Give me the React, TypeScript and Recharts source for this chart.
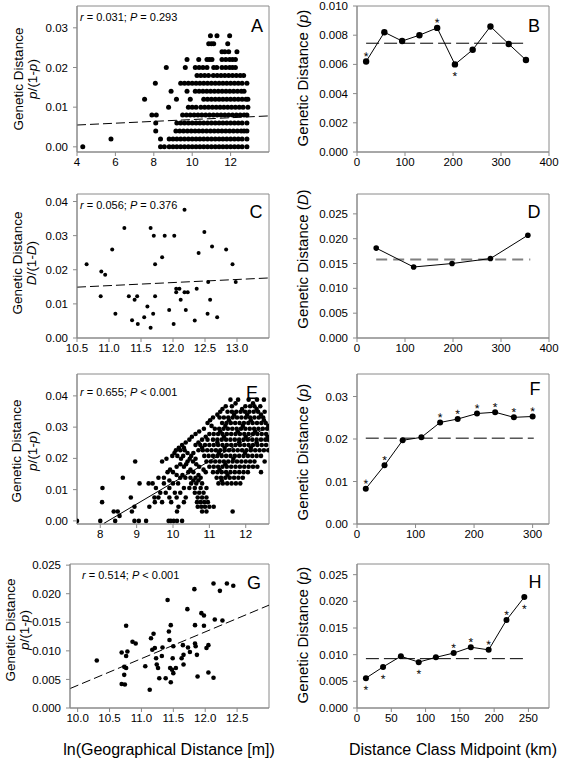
import React from 'react';
import {
  ScatterChart,
  Scatter,
  ComposedChart,
  Line,
  XAxis,
  YAxis,
  ReferenceLine,
  ReferenceArea,
} from 'recharts';

const FONT = '"Liberation Sans", Arial, Helvetica, sans-serif';
const GREY = '#8a8a8a';

// ---- panel A: p/(1-p) vs ln distance (rows of overlapping points)
const aRowY = [0, 0.002, 0.004, 0.006, 0.008, 0.01, 0.012, 0.014, 0.016, 0.018, 0.02, 0.022, 0.024, 0.026, 0.028];
const aRowX = [
  [4.3, 8.35, 8.55, 8.8, 9.0, 9.2, 9.4, 9.6, 9.8, 10.0, 10.2, 10.4, 10.6, 10.8, 11.0, 11.2, 11.4, 11.6, 11.8, 12.0, 12.2, 12.4, 12.6, 12.85],
  [5.77, 8.35, 8.8, 9.0, 9.2, 9.4, 9.6, 9.8, 10.0, 10.2, 10.4, 10.6, 10.8, 11.0, 11.2, 11.4, 11.6, 11.8, 12.0, 12.2, 12.4, 12.6, 12.85],
  [8.1, 9.15, 9.35, 9.55, 9.75, 9.95, 10.15, 10.35, 10.55, 10.75, 10.95, 11.15, 11.35, 11.55, 11.75, 11.95, 12.15, 12.35, 12.55, 12.7, 12.85],
  [8.1, 9.2, 9.4, 9.6, 9.8, 10.0, 10.2, 10.4, 10.6, 10.8, 11.0, 11.2, 11.4, 11.6, 11.8, 12.0, 12.2, 12.4, 12.6, 12.85],
  [7.9, 8.13, 9.5, 9.7, 9.9, 10.1, 10.3, 10.5, 10.7, 10.9, 11.1, 11.3, 11.5, 11.7, 11.9, 12.1, 12.3, 12.5, 12.7, 12.85],
  [8.77, 9.8, 10.0, 10.2, 10.45, 10.65, 10.85, 11.05, 11.25, 11.45, 11.65, 11.85, 12.05, 12.25, 12.45, 12.65, 12.9],
  [7.52, 9.18, 9.9, 10.6, 10.8, 11.0, 11.2, 11.4, 11.6, 11.8, 12.0, 12.2, 12.4, 12.6, 12.8, 12.9],
  [8.9, 9.73, 10.16, 10.36, 10.56, 10.76, 10.96, 11.16, 11.36, 11.56, 11.76, 11.96, 12.16, 12.36, 12.56, 12.7],
  [8.08, 9.4, 9.6, 9.8, 10.0, 10.2, 10.4, 10.6, 10.8, 11.0, 11.2, 11.4, 11.6, 11.8, 12.0, 12.2, 12.4, 12.6, 12.85],
  [10.25, 10.45, 10.65, 10.85, 11.1, 11.3, 11.5, 11.7, 11.9, 12.1, 12.3, 12.5, 12.68],
  [8.65, 9.64, 10.16, 10.36, 10.56, 10.77, 11.12, 11.28, 11.55, 11.75, 11.95, 12.1, 12.25],
  [9.73, 10.34, 10.77, 10.9, 11.03, 11.55, 11.75, 11.95, 12.1, 12.25],
  [11.55, 11.7, 11.9, 12.33],
  [10.86, 11.0, 11.12, 11.85],
  [10.95, 11.29, 11.95],
];
const aFit = [[4, 0.0055], [14, 0.0078]];

// ---- panel B: p by distance class
const bX = [19, 57, 94, 130, 167, 204, 241, 278, 316, 352];
const bY = [0.0062, 0.0082, 0.0076, 0.008, 0.0085, 0.006, 0.007, 0.0086, 0.0074, 0.0063];
const bStar = ['up', '', '', '', 'up', 'down', '', '', '', ''];
const bMean = [19, 352, 0.00745];

// ---- panel C: D/(1-D) vs ln distance
const cX = [10.65, 10.88, 10.94, 10.87, 11.05, 11.1, 11.24, 11.31, 11.36, 11.4, 11.44, 11.45, 11.55, 11.6, 11.65, 11.65, 11.7, 11.69, 11.72, 11.72, 11.83, 11.87, 11.94, 12.02, 12.01, 12.05, 12.05, 12.1, 12.12, 12.18, 12.18, 12.23, 12.2, 12.34, 12.37, 12.4, 12.49, 12.55, 12.54, 12.58, 12.61, 12.69, 12.83, 12.93, 12.98];
const cY = [0.0216, 0.0195, 0.0185, 0.0122, 0.0259, 0.0071, 0.0322, 0.0122, 0.0052, 0.0112, 0.0122, 0.0041, 0.0061, 0.0092, 0.003, 0.0322, 0.03, 0.0071, 0.0216, 0.0122, 0.0237, 0.03, 0.0082, 0.03, 0.0041, 0.0144, 0.0134, 0.0144, 0.0112, 0.0376, 0.0134, 0.0134, 0.0082, 0.0051, 0.0144, 0.0249, 0.0311, 0.0164, 0.0071, 0.0112, 0.0268, 0.0061, 0.0259, 0.0216, 0.0164];
const cFit = [[10.5, 0.0149], [13.5, 0.0176]];

// ---- panel D: D by distance class
const dX = [40, 118, 198, 278, 356];
const dY = [0.0181, 0.0143, 0.015, 0.016, 0.0207];
const dMean = [40, 361, 0.0158];

// ---- panel E: p/(1-p) vs ln distance
const eRowY = [
  0.0388, 0.0376, 0.0367, 0.0358, 0.0349, 0.034, 0.0331, 0.0322, 0.0313, 0.0304, 0.0295, 0.0286,
  0.0278, 0.0269, 0.026, 0.0251, 0.0243, 0.0234, 0.0226, 0.0217, 0.0208, 0.0199, 0.019, 0.0181,
  0.0173, 0.0164, 0.0156, 0.0147, 0.0138, 0.0129, 0.012, 0.0105, 0.009, 0.0075, 0.006, 0.0045,
  0.003, 0.0016, 0,
];
const eRowX = [
  [11.58, 11.79, 12.08, 12.31, 12.5],
  [11.72, 12.2],
  [11.45, 11.62, 11.99, 12.12, 12.24, 12.4],
  [11.36, 11.9, 12.3],
  [11.3, 11.5, 11.62, 11.74, 11.86, 11.98, 12.1, 12.22, 12.34, 12.52],
  [11.22, 11.68, 12.04, 12.42],
  [11.1, 11.28, 11.4, 11.52, 11.64, 11.76, 11.88, 12.0, 12.12, 12.24, 12.36, 12.48],
  [11.02, 11.54, 12.14, 12.5],
  [10.95, 11.35, 11.47, 11.59, 11.71, 11.83, 11.95, 12.07, 12.19, 12.31, 12.43, 12.55],
  [11.06, 11.44, 11.92, 12.62],
  [10.85, 11.15, 11.27, 11.39, 11.51, 11.63, 11.75, 11.87, 11.99, 12.11, 12.23, 12.35, 12.47, 12.59],
  [10.72, 11.3, 11.78, 12.26],
  [10.62, 11.0, 11.12, 11.24, 11.36, 11.48, 11.6, 11.72, 11.84, 11.96, 12.08, 12.2, 12.32, 12.44, 12.56],
  [10.52, 10.9, 11.4, 12.0, 12.6],
  [10.45, 10.8, 10.95, 11.1, 11.22, 11.34, 11.46, 11.58, 11.7, 11.82, 11.94, 12.06, 12.18, 12.3, 12.42, 12.54, 12.62],
  [10.35, 10.7, 11.22, 11.82, 12.3],
  [10.25, 10.62, 10.75, 10.88, 11.0, 11.12, 11.24, 11.36, 11.48, 11.6, 11.72, 11.84, 11.96, 12.08, 12.2, 12.32, 12.44, 12.56],
  [10.16, 10.3, 10.8, 11.42, 12.14],
  [10.08, 10.2, 10.32, 10.7, 10.82, 10.94, 11.06, 11.18, 11.3, 11.42, 11.54, 11.66, 11.78, 11.9, 12.02, 12.14, 12.26, 12.38, 12.5, 12.62],
  [10.04, 10.4, 10.56, 11.26, 11.98],
  [9.98, 10.12, 10.28, 10.5, 10.86, 10.98, 11.1, 11.22, 11.34, 11.46, 11.58, 11.7, 11.82, 11.94, 12.06, 12.18, 12.3, 12.42],
  [9.82, 10.22, 10.46, 10.62, 11.66],
  [8.96, 9.7, 10.4, 10.55, 10.92, 11.04, 11.16, 11.28, 11.4, 11.52, 11.64, 11.76, 11.88, 12.0, 12.12, 12.24, 12.52],
  [10.2, 10.36, 10.64, 11.44],
  [10.1, 10.3, 10.72, 11.0, 11.12, 11.24, 11.36, 11.48, 11.6, 11.72, 11.84, 11.96, 12.08, 12.2, 12.32],
  [9.92, 10.48, 10.84, 11.28],
  [9.85, 10.0, 10.42, 10.56, 10.9, 11.1, 11.22, 11.34, 11.46, 11.58, 11.7, 11.82, 11.94, 12.06, 12.42],
  [10.1, 10.26, 10.7, 11.5],
  [8.62, 9.6, 9.75, 10.2, 10.34, 10.48, 10.62, 10.76, 11.2, 11.32, 11.44, 11.56, 11.68, 11.8, 11.92],
  [9.9, 10.56, 10.7, 11.34],
  [9.08, 9.33, 9.44, 9.75, 10.0, 10.14, 10.5, 10.64, 10.8, 11.25, 11.37, 11.49, 11.61, 11.73, 11.85],
  [8.06, 9.53, 9.9, 10.3, 10.45, 10.6, 10.76, 10.92],
  [9.65, 9.8, 10.05, 10.2, 10.6, 10.72, 10.84],
  [8.84, 9.49, 9.6, 9.9, 10.1, 10.35, 10.68, 10.8, 10.92],
  [8.05, 9.5, 9.7, 9.95, 10.3, 10.66, 10.76, 10.86, 10.96],
  [8.94, 9.35, 10.15, 10.68, 10.78, 10.88, 11.0, 11.12],
  [8.37, 8.48, 8.87, 10.11, 10.8, 10.92, 11.64],
  [8.53],
  [7.36, 8.0, 8.41, 8.94, 9.06, 9.26, 9.88, 9.94, 10.02, 10.11, 10.25],
];
const eFit = [[8.1, -0.0008], [12.64, 0.0304]];

// ---- panel F: p by distance class
const fX = [15, 47, 78, 110, 142, 172, 205, 236, 268, 300];
const fY = [0.0083, 0.0138, 0.0197, 0.0204, 0.0239, 0.0247, 0.026, 0.0263, 0.0251, 0.0253];
const fStar = ['up', 'up', '', '', 'up', 'up', 'up', 'up', 'up', 'up'];
const fMean = [15, 302, 0.0202];

// ---- panel G: p/(1-p) vs ln distance
const gX = [10.3, 10.69, 10.76, 10.78, 10.76, 10.73, 10.76, 10.73, 10.69, 10.74, 10.86, 10.91, 11.06, 11.13, 11.15, 11.19, 11.17, 11.21, 11.23, 11.24, 11.26, 11.28, 11.33, 11.32, 11.38, 11.41, 11.43, 11.44, 11.45, 11.46, 11.46, 11.48, 11.49, 11.5, 11.5, 11.54, 11.66, 11.63, 11.65, 11.66, 11.72, 11.73, 11.76, 11.83, 11.84, 11.84, 11.85, 11.87, 11.88, 11.94, 11.98, 11.98, 12.02, 12.05, 12.05, 12.13, 12.13, 12.15, 12.23, 12.27, 12.34, 12.44];
const gY = [0.0083, 0.0097, 0.0144, 0.0099, 0.0091, 0.0072, 0.007, 0.0058, 0.0042, 0.0041, 0.0116, 0.0113, 0.0073, 0.0032, 0.0122, 0.013, 0.0102, 0.0105, 0.0087, 0.0076, 0.007, 0.0052, 0.0106, 0.0091, 0.0052, 0.0189, 0.0134, 0.0119, 0.007, 0.0045, 0.0145, 0.0067, 0.0087, 0.0108, 0.0061, 0.007, 0.0076, 0.0087, 0.011, 0.0093, 0.0173, 0.0106, 0.0098, 0.0208, 0.0145, 0.0113, 0.0108, 0.0093, 0.0055, 0.0166, 0.0162, 0.0144, 0.0105, 0.011, 0.0062, 0.0218, 0.0053, 0.0155, 0.0205, 0.0153, 0.0218, 0.0214];
const gFit = [[9.88, 0.0034], [13.0, 0.018]];

// ---- panel H: p by distance class
const hX = [13, 38, 64, 90, 115, 141, 166, 192, 218, 244];
const hY = [0.0056, 0.0077, 0.0097, 0.0086, 0.0095, 0.0103, 0.0114, 0.0109, 0.0165, 0.0208];
const hStar = ['down', 'down', '', 'down', '', 'up', 'up', 'up', 'up', 'down'];
const hMean = [13, 244, 0.00925];

const YW = 60;
const XH = 30;
const MT = 10;
const MR = 16;

const tickStyle = { fill: '#000', fontSize: 11.5, fontFamily: FONT };

const rowsToPts = (ys: number[], xs: number[][]) => ys.flatMap((y, i) => xs[i].map((x) => ({ x, y })));
const zipPts = (xs: number[], ys: number[], stars?: string[]) =>
  xs.map((x, i) => ({ x, y: ys[i], star: stars ? stars[i] : '' }));

interface ScatterPanelProps {
  left: number;
  top: number;
  w: number;
  h: number;
  pts: { x: number; y: number }[];
  r: number;
  xDom: number[];
  xTicks: number[];
  xFmt: (v: number) => string;
  yDom: number[];
  yTicks: number[];
  yFmt: (v: number) => string;
  fit: number[][];
  dash?: string;
}

function ScatterPanel({ left, top, w, h, pts, r, xDom, xTicks, xFmt, yDom, yTicks, yFmt, fit, dash }: ScatterPanelProps) {
  return (
    <div style={{ position: 'absolute', left: left - YW, top: top - MT }}>
      <ScatterChart width={w + YW + MR} height={h + MT + XH} margin={{ top: MT, right: MR, bottom: 0, left: 0 }}>
        <XAxis type="number" dataKey="x" domain={xDom} ticks={xTicks} tickFormatter={xFmt} allowDataOverflow
          interval={0} height={XH} stroke={GREY} tickSize={4} tickMargin={2} tick={tickStyle} />
        <YAxis type="number" dataKey="y" domain={yDom} ticks={yTicks} tickFormatter={yFmt} allowDataOverflow
          interval={0} width={YW} stroke={GREY} tickSize={4} tickMargin={5} tick={tickStyle} />
        <ReferenceArea x1={xDom[0]} x2={xDom[1]} y1={yDom[0]} y2={yDom[1]} fill="none" fillOpacity={0} stroke={GREY} />
        <ReferenceLine
          segment={[{ x: fit[0][0], y: fit[0][1] }, { x: fit[1][0], y: fit[1][1] }]}
          stroke="#000"
          strokeWidth={1}
          strokeDasharray={dash}
        />
        <Scatter
          data={pts}
          isAnimationActive={false}
          shape={(p: any) => <circle cx={p.cx} cy={p.cy} r={r} fill="#000" />}
        />
      </ScatterChart>
    </div>
  );
}

function StarDot(props: any) {
  const { cx, cy, payload, r } = props;
  const star = payload && payload.star;
  const ty = star === 'down' ? cy + 16 : cy - 1;
  return (
    <g>
      <circle cx={cx} cy={cy} r={r} fill="#000" stroke="none" />
      {(star === 'up' || star === 'down') && (
        <text x={cx} y={ty} textAnchor="middle" fontSize={12} fontFamily={FONT} stroke="none"
          transform={`rotate(0.5 ${cx} ${ty})`} style={{ fill: '#000' }}>*</text>
      )}
    </g>
  );
}

interface LinePanelProps {
  left: number;
  top: number;
  w: number;
  h: number;
  rows: { x: number; y: number; star: string }[];
  r: number;
  xDom: number[];
  xTicks: number[];
  yDom: number[];
  yTicks: number[];
  yFmt: (v: number) => string;
  mean: number[];
  meanColor?: string;
  meanWidth?: number;
  meanDash?: string;
}

function LinePanel({ left, top, w, h, rows, r, xDom, xTicks, yDom, yTicks, yFmt, mean, meanColor = '#000', meanWidth = 1, meanDash = '13 5' }: LinePanelProps) {
  return (
    <div style={{ position: 'absolute', left: left - YW, top: top - MT }}>
      <ComposedChart width={w + YW + MR} height={h + MT + XH} data={rows} margin={{ top: MT, right: MR, bottom: 0, left: 0 }}>
        <XAxis type="number" dataKey="x" domain={xDom} ticks={xTicks} allowDataOverflow interval={0}
          height={XH} stroke={GREY} tickSize={4} tickMargin={2} tick={tickStyle} />
        <YAxis type="number" domain={yDom} ticks={yTicks} tickFormatter={yFmt} allowDataOverflow interval={0}
          width={YW} stroke={GREY} tickSize={4} tickMargin={5} tick={tickStyle} />
        <ReferenceArea x1={xDom[0]} x2={xDom[1]} y1={yDom[0]} y2={yDom[1]} fill="none" fillOpacity={0} stroke={GREY} />
        <ReferenceLine
          segment={[{ x: mean[0], y: mean[2] }, { x: mean[1], y: mean[2] }]}
          stroke={meanColor}
          strokeWidth={meanWidth}
          strokeDasharray={meanDash}
        />
        <Line
          dataKey="y"
          stroke="#000"
          strokeWidth={1}
          isAnimationActive={false}
          dot={(p: any) => <StarDot key={p.index} cx={p.cx} cy={p.cy} payload={p.payload} r={r} />}
          activeDot={false}
        />
      </ComposedChart>
    </div>
  );
}

const f2 = (v: number) => v.toFixed(2);
const f3 = (v: number) => v.toFixed(3);
const f1 = (v: number) => v.toFixed(1);
const f0 = (v: number) => String(v);

function LeftTitle({ x1, x2, y, second }: { x1: number; x2: number; y: number; second: React.ReactNode }) {
  return (
    <g fontSize={13.5}>
      <text x={x1} y={y} textAnchor="middle" transform={`rotate(-90 ${x1} ${y})`}>Genetic Distance</text>
      <text x={x2} y={y} textAnchor="middle" transform={`rotate(-90 ${x2} ${y})`}>{second}</text>
    </g>
  );
}

function RightTitle({ y, sym }: { y: number; sym: string }) {
  const x = 308;
  return (
    <text x={x} y={y} fontSize={15} textAnchor="middle" transform={`rotate(-90 ${x} ${y})`}>
      Genetic Distance (<tspan fontStyle="italic">{sym}</tspan>)
    </text>
  );
}

function Stat({ x, y, r, p }: { x: number; y: number; r: string; p: string }) {
  return (
    <text x={x} y={y} fontSize={11}>
      <tspan fontStyle="italic">r</tspan> = {r}; <tspan fontStyle="italic">P</tspan> {p}
    </text>
  );
}

const pOver = (
  <>
    <tspan fontStyle="italic">p</tspan>/(1-<tspan fontStyle="italic">p</tspan>)
  </>
);
const dOver = (
  <>
    <tspan fontStyle="italic">D</tspan>/(1-<tspan fontStyle="italic">D</tspan>)
  </>
);

export default function App() {
  const aPts = rowsToPts(aRowY, aRowX);
  const ePts = rowsToPts(eRowY, eRowX);
  const cPts = zipPts(cX, cY);
  const gPts = zipPts(gX, gY);

  return (
    <div style={{ position: 'absolute', left: 0, top: 0, width: 561, height: 763, background: '#fff', fontFamily: FONT }}>
      <ScatterPanel left={77} top={6} w={192} h={146} pts={aPts} r={2.5}
        xDom={[4, 14]} xTicks={[4, 6, 8, 10, 12]} xFmt={f0}
        yDom={[-0.0013, 0.0355]} yTicks={[0, 0.01, 0.02, 0.03]} yFmt={f2} fit={aFit} dash="9 4" />
      <LinePanel left={357} top={6} w={192} h={146} rows={zipPts(bX, bY, bStar)} r={3.2}
        xDom={[0, 400]} xTicks={[0, 100, 200, 300, 400]}
        yDom={[0, 0.01]} yTicks={[0, 0.002, 0.004, 0.006, 0.008, 0.01]} yFmt={f3} mean={bMean} />

      <ScatterPanel left={77} top={194} w={192} h={144} pts={cPts} r={2}
        xDom={[10.5, 13.5]} xTicks={[10.5, 11, 11.5, 12, 12.5, 13]} xFmt={f1}
        yDom={[0, 0.0422]} yTicks={[0, 0.01, 0.02, 0.03, 0.04]} yFmt={f2} fit={cFit} dash="9 4" />
      <LinePanel left={357} top={194} w={192} h={144} rows={zipPts(dX, dY)} r={2.8}
        xDom={[0, 400]} xTicks={[0, 100, 200, 300, 400]}
        yDom={[0, 0.029]} yTicks={[0, 0.005, 0.01, 0.015, 0.02, 0.025]} yFmt={f3} mean={dMean}
        meanColor="#808080" meanWidth={2} meanDash="11 6" />

      <ScatterPanel left={77} top={374} w={192} h={150} pts={ePts} r={2.3}
        xDom={[7.36, 12.64]} xTicks={[8, 9, 10, 11, 12]} xFmt={f0}
        yDom={[-0.001, 0.047]} yTicks={[0, 0.01, 0.02, 0.03, 0.04]} yFmt={f2} fit={eFit} />
      <LinePanel left={357} top={374} w={192} h={150} rows={zipPts(fX, fY, fStar)} r={3}
        xDom={[0, 328]} xTicks={[0, 100, 200, 300]}
        yDom={[0, 0.0353]} yTicks={[0, 0.01, 0.02, 0.03]} yFmt={f2} mean={fMean} />

      <ScatterPanel left={70} top={564} w={199} h={144} pts={gPts} r={2.3}
        xDom={[9.88, 13.0]} xTicks={[10, 10.5, 11, 11.5, 12, 12.5]} xFmt={f1}
        yDom={[0, 0.0252]} yTicks={[0, 0.005, 0.01, 0.015, 0.02, 0.025]} yFmt={f3} fit={gFit} dash="9 4" />
      <LinePanel left={357} top={564} w={192} h={144} rows={zipPts(hX, hY, hStar)} r={3}
        xDom={[0, 280]} xTicks={[0, 50, 100, 150, 200, 250]}
        yDom={[0, 0.027]} yTicks={[0, 0.005, 0.01, 0.015, 0.02, 0.025]} yFmt={f3} mean={hMean} />

      <svg width={561} height={763} style={{ position: 'absolute', left: 0, top: 0, pointerEvents: 'none' }}
        fontFamily={FONT} fill="#000">
        <LeftTitle x1={23} x2={37} y={79} second={pOver} />
        <LeftTitle x1={22} x2={36} y={263} second={dOver} />
        <LeftTitle x1={21} x2={37} y={451} second={pOver} />
        <LeftTitle x1={14.5} x2={28.5} y={630} second={pOver} />

        <RightTitle y={78} sym="p" />
        <RightTitle y={259} sym="D" />
        <RightTitle y={452} sym="p" />
        <RightTitle y={635} sym="p" />

        <Stat x={80} y={21} r="0.031" p="= 0.293" />
        <Stat x={80} y={209} r="0.056" p="= 0.376" />
        <Stat x={80} y={396} r="0.655" p="< 0.001" />
        <Stat x={82} y={579} r="0.514" p="< 0.001" />

        <g fontSize={18} textAnchor="middle">
          <text x={257} y={31.5}>A</text>
          <text x={534} y={31.5}>B</text>
          <text x={256} y={218}>C</text>
          <text x={534} y={218}>D</text>
          <text x={252} y={399}>E</text>
          <text x={535} y={395}>F</text>
          <text x={254} y={589}>G</text>
          <text x={535} y={588}>H</text>
        </g>

        <text x={169} y={755} fontSize={16} textAnchor="middle">ln(Geographical Distance [m])</text>
        <text x={453} y={755} fontSize={16} textAnchor="middle">Distance Class Midpoint (km)</text>
      </svg>
    </div>
  );
}
